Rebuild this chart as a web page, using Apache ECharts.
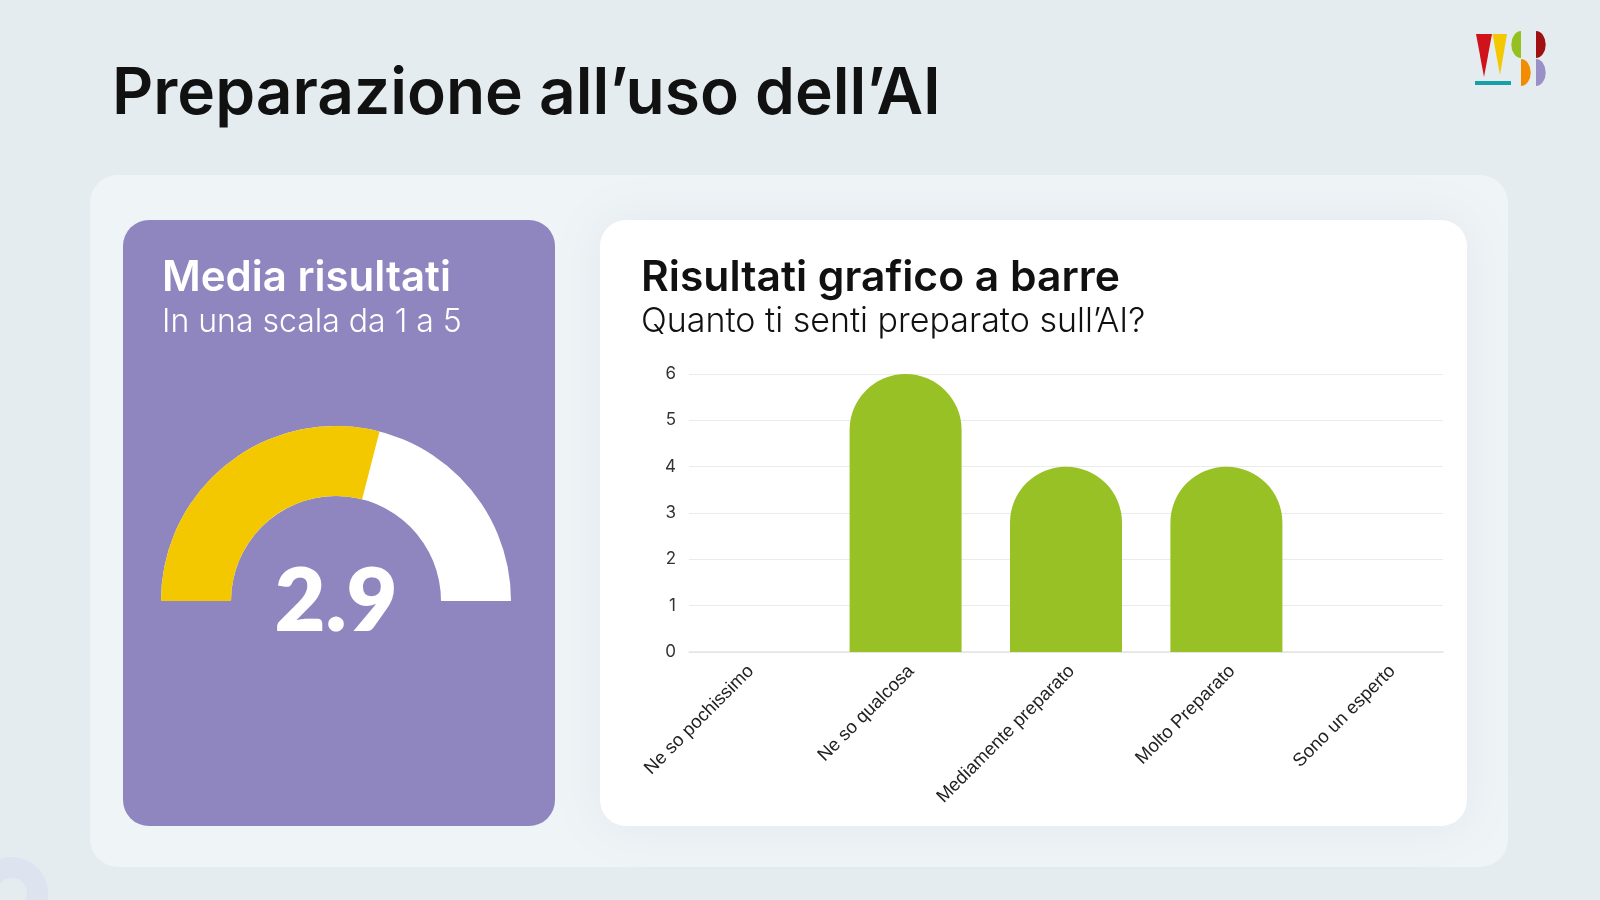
<!DOCTYPE html>
<html>
<head>
<meta charset="utf-8">
<script src="https://cdn.jsdelivr.net/npm/echarts@6/dist/echarts.min.js"></script>
<style>
html,body{margin:0;padding:0;background:#e5ecf0;}
#c{width:1600px;height:900px;}
</style>
</head>
<body>
<div id="c"></div>
<script>
// ---- data ----
const pageTitle = "Preparazione all’uso dell’AI";
const gaugeTitle = "Media risultati";
const gaugeSubtitle = "In una scala da 1 a 5";
const gaugeMin = 0;
const gaugeMax = 5;
const gaugeValue = 2.9;
const barTitle = "Risultati grafico a barre";
const barSubtitle = "Quanto ti senti preparato sull’AI?";
const categories = ["Ne so pochissimo", "Ne so qualcosa", "Mediamente preparato", "Molto Preparato", "Sono un esperto"];
const counts = [0, 6, 4, 4, 0];
const yMin = 0, yMax = 6, yStep = 1;

const chart = echarts.init(document.getElementById('c'), null, {renderer:'canvas'});
const FONT = 'Inter, "Noto Sans", sans-serif';

const option = {
  animation: false,
  backgroundColor: '#e5ecf0',
  graphic: {
    elements: [
      {type:'sector', z:-10, shape:{cx:12, cy:893, r:36, r0:15, startAngle:0, endAngle:Math.PI*2}, style:{fill:'#dde3ef'}},
      {type:'rect', z:-9, shape:{x:90, y:175, width:1418, height:692, r:28}, style:{fill:'#eff4f7'}},
      {type:'rect', z:-8, shape:{x:123, y:220, width:432, height:606, r:26}, style:{fill:'#8f86c0'}},
      {type:'rect', z:-8, shape:{x:600, y:220, width:867, height:606, r:26}, style:{fill:'#ffffff', shadowBlur:50, shadowColor:'rgba(120,130,150,0.10)'}},
      {type:'text', z:10, x:112, y:95, style:{text:pageTitle, font:'600 64px ' + FONT, fill:'#111111', verticalAlign:'middle', align:'left'}},
      {type:'text', z:10, x:162, y:278, style:{text:gaugeTitle, font:'600 42px ' + FONT, fill:'#ffffff', verticalAlign:'middle', align:'left'}},
      {type:'text', z:10, x:162, y:322, style:{text:gaugeSubtitle, font:'300 32px ' + FONT, fill:'#ffffff', verticalAlign:'middle', align:'left'}},
      {type:'text', z:10, x:641, y:278, style:{text:barTitle, font:'600 42.6px ' + FONT, fill:'#111111', verticalAlign:'middle', align:'left'}},
      {type:'text', z:10, x:641, y:322, style:{text:barSubtitle, font:'300 34px ' + FONT, fill:'#111111', verticalAlign:'middle', align:'left'}},
      // logo
      {type:'polygon', z:10, shape:{points:[[1476,34],[1492,34],[1484,77]]}, style:{fill:'#d0131a'}},
      {type:'polygon', z:10, shape:{points:[[1492.5,34],[1507,34],[1500,75]]}, style:{fill:'#f4c800'}},
      {type:'rect', z:10, shape:{x:1475, y:81, width:36, height:4}, style:{fill:'#16a0a8'}},
      {type:'sector', z:10, x:1521, y:44.5, scaleX:0.72, shape:{cx:0, cy:0, r:13.5, startAngle:Math.PI/2, endAngle:Math.PI*1.5}, style:{fill:'#94c11f'}},
      {type:'sector', z:10, x:1521, y:72.5, scaleX:0.72, shape:{cx:0, cy:0, r:13.5, startAngle:-Math.PI/2, endAngle:Math.PI/2}, style:{fill:'#f28c00'}},
      {type:'sector', z:10, x:1536, y:44.5, scaleX:0.72, shape:{cx:0, cy:0, r:13.5, startAngle:-Math.PI/2, endAngle:Math.PI/2}, style:{fill:'#a01010'}},
      {type:'sector', z:10, x:1536, y:72.5, scaleX:0.72, shape:{cx:0, cy:0, r:13.5, startAngle:-Math.PI/2, endAngle:Math.PI/2}, style:{fill:'#9b8fc8'}}
    ]
  },
  grid: [
    {left:689, width:754, top:374, height:278},
    {left:665, width:802, top:374, height:278}
  ],
  xAxis: [
    {gridIndex:0, type:'value', min:0, max:1, axisLine:{show:true, lineStyle:{color:'#e3e3e3', width:1.5}}, axisTick:{show:false}, axisLabel:{show:false}, splitLine:{show:false}},
    {gridIndex:1, type:'category', data:categories, axisLine:{show:false}, axisTick:{show:false},
     axisLabel:{rotate:45, margin:22, padding:[0,-8,0,0], fontSize:18.5, color:'#222222', fontFamily:'"Liberation Sans", Arial, sans-serif', interval:0}}
  ],
  yAxis: [
    {gridIndex:0, type:'value', min:yMin, max:yMax, interval:yStep, axisLine:{show:false}, axisTick:{show:false},
     axisLabel:{margin:13, fontSize:17, color:'#333333', fontFamily:FONT},
     splitLine:{lineStyle:{color:'#ebebeb', width:1.2}}},
    {gridIndex:1, type:'value', min:yMin, max:yMax, interval:yStep, show:false, splitLine:{show:false}}
  ],
  series: [
    {
      type:'bar', xAxisIndex:1, yAxisIndex:1, data:counts, barWidth:112,
      itemStyle:{color:'#97c124', borderRadius:[56,56,0,0]}
    },
    {
      type:'gauge', center:[336,601], radius:175, startAngle:180, endAngle:0,
      min:gaugeMin, max:gaugeMax,
      axisLine:{roundCap:false, lineStyle:{width:70, color:[[1,'#ffffff']]}},
      progress:{show:true, width:70, roundCap:false, itemStyle:{color:'#f4c800'}},
      pointer:{show:false}, anchor:{show:false}, axisTick:{show:false}, splitLine:{show:false}, axisLabel:{show:false},
      title:{show:false},
      detail:{formatter:function(v){return v.toFixed(1);}, fontSize:88, fontWeight:800, fontFamily:'Lato, Inter, sans-serif', color:'#ffffff', offsetCenter:[0,2]},
      data:[{value:gaugeValue}]
    }
  ]
};
chart.setOption(option);
</script>
</body>
</html>
